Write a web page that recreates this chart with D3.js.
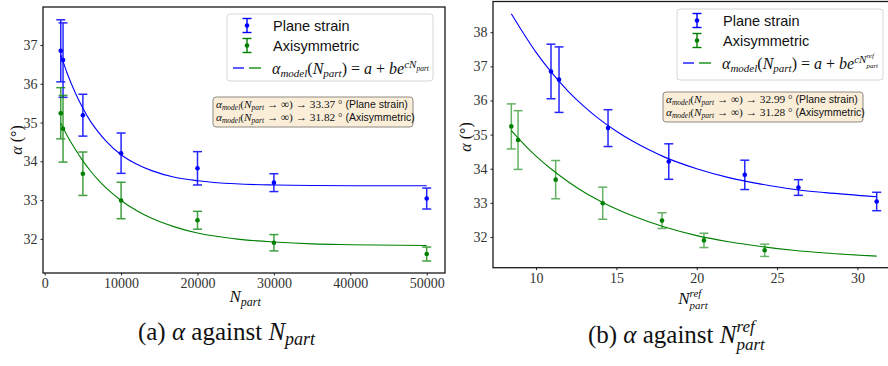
<!DOCTYPE html>
<html>
<head>
<meta charset="utf-8">
<script src="https://cdn.jsdelivr.net/npm/d3@7"></script>
<style>
  body { margin: 0; background: #fff; }
  svg { display: block; }
</style>
</head>
<body>
<svg id="fig" width="888" height="366"></svg>
<script>
// measured points (same alpha values in both panels)
var nPart = [2100, 2400, 5000, 10000, 20000, 30000, 50000];
var planeRef = [10.93, 11.43, 14.48, 18.26, 22.99, 26.33, 31.2];
var axiRef = [8.46, 8.88, 11.22, 14.15, 17.84, 20.45, 24.23];
var planeAlpha = [36.85, 36.61, 35.19, 34.21, 33.82, 33.45, 33.04];
var planeErr = [0.80, 0.96, 0.54, 0.52, 0.43, 0.23, 0.27];
var axiAlpha = [35.24, 34.84, 33.68, 32.99, 32.48, 31.90, 31.61];
var axiErr = [0.66, 0.86, 0.56, 0.47, 0.23, 0.21, 0.18];

// fitted model curves
var fitPlaneAx = [2100, 3000, 4000, 5000, 6000, 7000, 8000, 10000, 12000, 14000, 17000, 20000, 25000, 30000, 40000, 50000];
var fitPlaneAy = [36.75, 36.24, 35.77, 35.37, 35.03, 34.76, 34.53, 34.17, 33.93, 33.76, 33.59, 33.50, 33.42, 33.39, 33.37, 33.37];
var fitAxiAx = [2100, 3000, 4000, 5000, 6000, 7000, 8000, 10000, 12000, 14000, 17000, 20000, 25000, 30000, 35000, 40000, 50000];
var fitAxiAy = [34.98, 34.64, 34.31, 34.01, 33.75, 33.52, 33.32, 32.99, 32.73, 32.53, 32.31, 32.15, 32.00, 31.92, 31.87, 31.85, 31.83];
var fitPlaneBx = [8.46, 10, 11, 12, 13, 14, 15, 16, 17, 18, 20, 22, 24, 26, 28, 31.2];
var fitPlaneBy = [38.54, 37.41, 36.80, 36.27, 35.82, 35.43, 35.10, 34.81, 34.56, 34.34, 34.00, 33.74, 33.55, 33.40, 33.30, 33.18];
var fitAxiBx = [8.46, 9, 10, 11, 12, 13, 14, 15, 16, 18, 20, 22, 24, 26, 28, 31.2];
var fitAxiBy = [35.12, 34.84, 34.37, 33.97, 33.62, 33.31, 33.05, 32.82, 32.62, 32.29, 32.04, 31.86, 31.72, 31.61, 31.53, 31.44];

var limitsA = ["33.37", "31.82"];
var limitsB = ["32.99", "31.28"];
var seriesNames = ["Plane strain", "Axisymmetric"];

var xTicksA = [0, 10000, 20000, 30000, 40000, 50000];
var yTicksA = [32, 33, 34, 35, 36, 37];
var xTicksB = [10, 15, 20, 25, 30];
var yTicksB = [32, 33, 34, 35, 36, 37, 38];

var BLUE = "#0000ff", GREEN = "#008000";
var SERIF = "'Liberation Serif', 'DejaVu Serif', serif";
var SANS = "'Liberation Sans', Arial, sans-serif";

var svg = d3.select("#fig");

// text made of pieces: {t, it, dy (px offset, + is down), size, fam, back}
function richText(g, x, y, parts, size, fam, anchor) {
    var t = g.append("text").attr("x", x).attr("y", y)
        .style("font-family", fam).style("font-size", size + "px").attr("fill", "#111");
    var cur = 0, prev = null;
    parts.forEach(function (p) {
        var off = p.dy || 0;
        var ts = t.append("tspan").text(p.t).attr("dy", off - cur);
        cur = off;
        if (p.it) ts.style("font-style", "italic");
        if (p.size) ts.style("font-size", p.size + "px");
        if (p.fam) ts.style("font-family", p.fam);
        if (p.back && prev) {
            var sx = prev.node().getStartPositionOfChar(0).x;
            ts.attr("x", sx);
        }
        prev = ts;
    });
    if (anchor === "middle") {
        var b = t.node().getBBox();
        t.attr("transform", "translate(" + (x - (b.x + b.width / 2)) + ",0)");
    }
    return t;
}

function errorIcon(g, x, y, color) {
    g.append("line").attr("x1", x).attr("x2", x).attr("y1", y - 7).attr("y2", y + 7)
        .attr("stroke", color).attr("stroke-width", 1.4);
    [y - 7, y + 7].forEach(function (yy) {
        g.append("line").attr("x1", x - 4.5).attr("x2", x + 4.5).attr("y1", yy).attr("y2", yy)
            .attr("stroke", color).attr("stroke-width", 1.4);
    });
    g.append("circle").attr("cx", x).attr("cy", y).attr("r", 2.3).attr("fill", color);
}

function drawPanel(cfg) {
    var g = svg.append("g");
    var x = d3.scaleLinear().domain(cfg.xDomain).range([cfg.left, cfg.right]);
    var y = d3.scaleLinear().domain(cfg.yDomain).range([cfg.bottom, cfg.top]);

    // fitted curves
    var line = d3.line().x(function (d) { return x(d[0]); }).y(function (d) { return y(d[1]); })
        .curve(d3.curveMonotoneX);
    cfg.fits.forEach(function (f) {
        g.append("path").datum(d3.zip(f.xs, f.ys)).attr("d", line)
            .attr("fill", "none").attr("stroke", f.color).attr("stroke-width", 1.1);
    });

    // error bars
    cfg.series.forEach(function (s) {
        var pts = s.xs.map(function (v, i) { return { x: v, y: s.ys[i], e: s.err[i] }; });
        var eg = g.append("g").attr("stroke", s.color).attr("stroke-width", 1.5).attr("opacity", s.op);
        eg.selectAll(".v").data(pts).join("line")
            .attr("x1", function (d) { return x(d.x); }).attr("x2", function (d) { return x(d.x); })
            .attr("y1", function (d) { return y(d.y - d.e); }).attr("y2", function (d) { return y(d.y + d.e); });
        [-1, 1].forEach(function (sg) {
            eg.selectAll(".c" + sg).data(pts).join("line")
                .attr("x1", function (d) { return x(d.x) - 4.5; }).attr("x2", function (d) { return x(d.x) + 4.5; })
                .attr("y1", function (d) { return y(d.y + sg * d.e); }).attr("y2", function (d) { return y(d.y + sg * d.e); });
        });
        g.selectAll(null).data(pts).join("circle")
            .attr("cx", function (d) { return x(d.x); }).attr("cy", function (d) { return y(d.y); })
            .attr("r", 2.3).attr("fill", s.color);
    });

    // axes
    var xa = g.append("g").attr("transform", "translate(0," + cfg.bottom + ")")
        .call(d3.axisBottom(x).tickValues(cfg.xTicks).tickFormat(d3.format("d")).tickSize(2.5).tickPadding(3));
    var ya = g.append("g").attr("transform", "translate(" + cfg.left + ",0)")
        .call(d3.axisLeft(y).tickValues(cfg.yTicks).tickFormat(d3.format("d")).tickSize(2.5).tickPadding(3));
    [xa, ya].forEach(function (a) {
        a.select(".domain").remove();
        a.selectAll("text").style("font-family", SERIF).style("font-size", "14px").attr("fill", "#333");
        a.selectAll("line").attr("stroke", "#222");
    });

    // frame
    g.append("rect").attr("x", cfg.left).attr("y", cfg.top)
        .attr("width", cfg.right - cfg.left).attr("height", cfg.bottom - cfg.top)
        .attr("fill", "none").attr("stroke", "#1a1a1a").attr("stroke-width", 1.3);

    // legend box
    var L = cfg.legend;
    g.append("rect").attr("x", L.x).attr("y", L.y).attr("width", L.w).attr("height", L.h)
        .attr("rx", 3).attr("fill", "#fff").attr("fill-opacity", 0.85)
        .attr("stroke", "#d6d6d6").attr("stroke-width", 1);
    errorIcon(g, L.mx, L.y + 11.5, BLUE);
    errorIcon(g, L.mx, L.y + 31.5, GREEN);
    richText(g, L.tx, L.y + 16.5, [{ t: seriesNames[0] }], 14.5, SANS);
    richText(g, L.tx, L.y + 36.5, [{ t: seriesNames[1] }], 14.5, SANS);
    var dy = L.y + 54;
    g.append("line").attr("x1", L.mx - 14).attr("x2", L.mx - 3).attr("y1", dy).attr("y2", dy)
        .attr("stroke", BLUE).attr("stroke-width", 1.3);
    g.append("line").attr("x1", L.mx + 2).attr("x2", L.mx + 14).attr("y1", dy).attr("y2", dy)
        .attr("stroke", GREEN).attr("stroke-width", 1.3);
    richText(g, L.tx - 1, L.y + 60, cfg.formula, 16, SERIF);

    // limit box
    var B = cfg.box;
    g.append("rect").attr("x", B.x).attr("y", B.y).attr("width", B.w).attr("height", B.h)
        .attr("rx", 3).attr("fill", "#faeed9").attr("stroke", "#8f8a82").attr("stroke-width", 1);
    cfg.limits.forEach(function (v, i) {
        richText(g, B.x + 3, B.y + 11 + i * 12.5, [
            { t: "α", it: true },
            { t: "model", it: true, size: 7.5, dy: 2 },
            { t: "(", dy: 0 },
            { t: "N", it: true },
            { t: "part", it: true, size: 7.5, dy: 2 },
            { t: " → ∞) → " + v + " ° ", dy: 0 },
            { t: "(" + seriesNames[i] + ")", fam: SANS, size: 10.5 }
        ], 11.3, SERIF);
    });

    // axis labels
    richText(g, cfg.xLabelX, cfg.xLabelY, cfg.xLabel, 17, SERIF, "middle");
    var yl = g.append("g").attr("transform", "translate(" + cfg.yLabelX + "," + cfg.yLabelY + ") rotate(-90)");
    richText(yl, 0, 0, [{ t: "α", it: true }, { t: "  (°)" }], 16, SERIF, "middle");

    // caption
    richText(g, cfg.capX, cfg.capY, cfg.caption, 25, SERIF, "middle");
}

drawPanel({
    left: 43, right: 445, top: 7, bottom: 273,
    xDomain: [-222, 52395], yDomain: [31.12, 37.98],
    xTicks: xTicksA, yTicks: yTicksA,
    series: [
        { xs: nPart, ys: planeAlpha, err: planeErr, color: BLUE, op: 0.85 },
        { xs: nPart, ys: axiAlpha, err: axiErr, color: GREEN, op: 0.75 }
    ],
    fits: [
        { xs: fitPlaneAx, ys: fitPlaneAy, color: BLUE },
        { xs: fitAxiAx, ys: fitAxiAy, color: GREEN }
    ],
    legend: { x: 227, y: 14, w: 206, h: 67, mx: 247, tx: 273 },
    formula: [
        { t: "α", it: true }, { t: "model", it: true, size: 11, dy: 3 },
        { t: "(", dy: 0 }, { t: "N", it: true }, { t: "part", it: true, size: 11, dy: 3 },
        { t: ") = ", dy: 0 }, { t: "a", it: true }, { t: " + " }, { t: "be", it: true },
        { t: "cN", it: true, size: 11, dy: -6 }, { t: "part", it: true, size: 7.5, dy: -3 }
    ],
    box: { x: 213, y: 97, w: 200, h: 30 },
    limits: limitsA,
    xLabel: [{ t: "N", it: true }, { t: "part", it: true, size: 12, dy: 4 }],
    xLabelX: 245, xLabelY: 302,
    yLabelX: 22, yLabelY: 140,
    caption: [{ t: "(a) " }, { t: "α", it: true }, { t: " against " }, { t: "N", it: true },
        { t: "part", it: true, size: 18, dy: 5 }],
    capX: 227, capY: 340
});

drawPanel({
    left: 493, right: 895, top: 1.5, bottom: 267.7,
    xDomain: [7.32, 32.34], yDomain: [31.1, 38.9],
    xTicks: xTicksB, yTicks: yTicksB,
    series: [
        { xs: planeRef, ys: planeAlpha, err: planeErr, color: BLUE, op: 0.85 },
        { xs: axiRef, ys: axiAlpha, err: axiErr, color: GREEN, op: 0.6 }
    ],
    fits: [
        { xs: fitPlaneBx, ys: fitPlaneBy, color: BLUE },
        { xs: fitAxiBx, ys: fitAxiBy, color: GREEN }
    ],
    legend: { x: 677, y: 9, w: 206, h: 71, mx: 697, tx: 723 },
    formula: [
        { t: "α", it: true }, { t: "model", it: true, size: 11, dy: 3 },
        { t: "(", dy: 0 }, { t: "N", it: true }, { t: "part", it: true, size: 11, dy: 3 },
        { t: ") = ", dy: 0 }, { t: "a", it: true }, { t: " + " }, { t: "be", it: true },
        { t: "cN", it: true, size: 11, dy: -6 }, { t: "ref", it: true, size: 7, dy: -11.5 },
        { t: "part", it: true, size: 7, dy: -1.5, back: true }
    ],
    box: { x: 663, y: 92, w: 200, h: 30 },
    limits: limitsB,
    xLabel: [{ t: "N", it: true }, { t: "ref", it: true, size: 11, dy: -7.5 },
        { t: "part", it: true, size: 11, dy: 4.5, back: true }],
    xLabelX: 693, xLabelY: 304,
    yLabelX: 471, yLabelY: 137,
    caption: [{ t: "(b) " }, { t: "α", it: true }, { t: " against " }, { t: "N", it: true },
        { t: "ref", it: true, size: 17, dy: -11 }, { t: "part", it: true, size: 17, dy: 7, back: true }],
    capX: 677, capY: 343
});
</script>
</body>
</html>
